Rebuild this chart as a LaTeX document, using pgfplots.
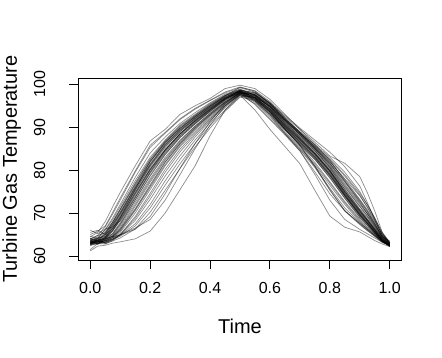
\documentclass[border=0pt]{standalone}
\usepackage{fontspec}
\setmainfont{Liberation Sans}
\usepackage{pgfplots}
\pgfplotsset{compat=1.18}
\begin{document}
\begin{tikzpicture}[crv/.style={black, opacity=0.45, line width=0.7pt, line join=round, mark=none}]
\begin{axis}[
  scale only axis, width=323.4pt, height=181.7pt,
  xmin=-0.04, xmax=1.04, ymin=59.07, ymax=101.4,
  xtick={0,0.2,0.4,0.6,0.8,1}, xticklabels={0.0,0.2,0.4,0.6,0.8,1.0},
  ytick={60,70,80,90,100},
  tick pos=left, tick align=outside, major tick length=9.5pt,
  tick style={black, line width=0.9pt},
  axis line style={line width=0.9pt},
  /pgf/number format/assume math mode=true,
  ticklabel style={font=\fontsize{16}{19}\selectfont},
  yticklabel style={rotate=90, anchor=south, inner ysep=23.3pt, inner xsep=0pt},
  xticklabel style={anchor=north},
  xticklabel shift=9pt, yticklabel shift=0pt,
  xlabel={Time}, ylabel={Turbine Gas Temperature},
  label style={font=\fontsize{20}{24}\selectfont},
  xlabel style={at={(axis description cs:0.5,0)}, anchor=base, yshift=-73.3pt},
  ylabel style={at={(axis description cs:-0.1896,0.5)}, anchor=base},
]
% curves: values at t = 0,.025,.05,.075,.1,.15,...,.9,.925,.95,.975,1
\addplot[crv] coordinates {(0,63)(.025,63.3)(.05,64)(.075,65.8)(.1,68.5)(.15,74.3)(.2,80)(.25,84.5)(.3,88.3)(.35,91.3)(.4,94)(.45,96.5)(.5,98.2)(.55,97)(.6,94.3)(.65,90.5)(.7,87.2)(.75,83.8)(.8,79.8)(.85,74.7)(.9,70.2)(.925,68.2)(.95,66)(.975,63.8)(1,62.5)};
\addplot[crv] coordinates {(0,64.5)(.025,65.5)(.05,68)(.075,71.5)(.1,74.8)(.15,81)(.2,86.8)(.25,89.5)(.3,93)(.35,95)(.4,96.7)(.45,99)(.5,99.8)(.55,99)(.6,96.5)(.65,93)(.7,89.5)(.75,86)(.8,82.3)(.85,77.5)(.9,73)(.925,70.5)(.95,67.5)(.975,64.5)(1,63.5)};
\addplot[crv] coordinates {(0,63.5)(.025,64.5)(.05,66)(.075,68.5)(.1,71.5)(.15,77.5)(.2,83)(.25,87)(.3,90.5)(.35,93)(.4,95.5)(.45,97.5)(.5,98.8)(.55,97.5)(.6,95)(.65,91.5)(.7,88.3)(.75,85)(.8,81.2)(.85,76.5)(.9,72)(.925,69.8)(.95,67.3)(.975,64.5)(1,62.8)};
\addplot[crv] coordinates {(0,62.8)(.025,63.5)(.05,65)(.075,67.5)(.1,70.3)(.15,76)(.2,81.5)(.25,86)(.3,89.5)(.35,92.3)(.4,94.8)(.45,97)(.5,98.5)(.55,96.5)(.6,93.5)(.65,89.5)(.7,86)(.75,82.5)(.8,78.3)(.85,73.5)(.9,69)(.925,67.2)(.95,65.2)(.975,63.5)(1,62.3)};
\addplot[crv] coordinates {(0,63.2)(.025,63)(.05,63.6)(.075,64.8)(.1,67)(.15,72.5)(.2,78)(.25,83)(.3,87)(.35,90.3)(.4,93.3)(.45,96)(.5,98)(.55,97.2)(.6,94.8)(.65,91.2)(.7,87.8)(.75,84.5)(.8,80.5)(.85,75.5)(.9,70.8)(.925,68.6)(.95,66.3)(.975,64)(1,62.6)};
\addplot[crv] coordinates {(0,62.5)(.025,63)(.05,63.3)(.075,64)(.1,65.5)(.15,70)(.2,75.5)(.25,81)(.3,85.5)(.35,89)(.4,92.3)(.45,95.3)(.5,97.8)(.55,96)(.6,92.8)(.65,88.7)(.7,85)(.75,81)(.8,76.5)(.85,72)(.9,68)(.925,66.3)(.95,64.8)(.975,63.3)(1,62.5)};
\addplot[crv] coordinates {(0,63.5)(.025,62.8)(.05,63.5)(.075,64)(.1,64.8)(.15,67.5)(.2,72)(.25,77.5)(.3,82.5)(.35,87)(.4,91)(.45,94.5)(.5,97.5)(.55,95.5)(.6,92)(.65,88.5)(.7,84.5)(.75,79)(.8,73)(.85,68.5)(.9,66.2)(.925,65.2)(.95,64.2)(.975,63.2)(1,62.5)};
\addplot[crv] coordinates {(0,61.2)(.025,62.3)(.05,62.5)(.075,63)(.1,63.3)(.15,64)(.2,65.8)(.25,70)(.3,75.5)(.35,81)(.4,88)(.45,94)(.5,97.5)(.55,94)(.6,89.5)(.65,85.5)(.7,81.5)(.75,75.3)(.8,69.3)(.85,66.7)(.9,65.6)(.925,64.6)(.95,63.6)(.975,62.8)(1,62.2)};
\addplot[crv] coordinates {(0,64)(.025,63.5)(.05,64)(.075,64.5)(.1,65)(.15,66.5)(.2,68.5)(.25,73)(.3,79)(.35,85)(.4,90.5)(.45,95)(.5,97.8)(.55,98)(.6,95.5)(.65,92.5)(.7,89.5)(.75,86.5)(.8,83.3)(.85,81.6)(.9,78.5)(.925,74.8)(.95,70.5)(.975,65.5)(1,63)};
\addplot[crv] coordinates {(0,65.5)(.025,66)(.05,65)(.075,66.5)(.1,69)(.15,75.5)(.2,82)(.25,86.5)(.3,89.8)(.35,92.5)(.4,95)(.45,97.3)(.5,98.6)(.55,97.8)(.6,95.5)(.65,92)(.7,89)(.75,86)(.8,83)(.85,79.5)(.9,75)(.925,72)(.95,68.8)(.975,65.5)(1,63.2)};
\addplot[crv] coordinates {(0,63.8)(.025,64.2)(.05,64.5)(.075,66.5)(.1,69.3)(.15,75.2)(.2,80.8)(.25,85.3)(.3,89)(.35,92)(.4,94.7)(.45,97.3)(.5,99.3)(.55,98.5)(.6,96)(.65,92.3)(.7,88.8)(.75,85.5)(.8,82)(.85,78)(.9,74)(.925,71.5)(.95,68.5)(.975,64.8)(1,62.8)};
\addplot[crv] coordinates {(0,63)(.025,62.7)(.05,64.2)(.075,66.8)(.1,69.6)(.15,75.3)(.2,81)(.25,85.5)(.3,89)(.35,91.8)(.4,94.4)(.45,96.8)(.5,98.3)(.55,97.3)(.6,94.6)(.65,90.8)(.7,87.5)(.75,84)(.8,80)(.85,75)(.9,70.5)(.925,68.4)(.95,66.2)(.975,64)(1,62.7)};
\addplot[crv] coordinates {(0,62.6)(.025,63.4)(.05,63.2)(.075,64.3)(.1,66.2)(.15,71.6)(.2,77.2)(.25,82.3)(.3,86.5)(.35,90)(.4,93)(.45,95.8)(.5,97.9)(.55,96.8)(.6,93.9)(.65,90)(.7,86.5)(.75,83)(.8,78.8)(.85,74)(.9,69.5)(.925,67.6)(.95,65.6)(.975,63.6)(1,62.4)};
\addplot[crv] coordinates {(0,64)(.025,64.8)(.05,65.4)(.075,67.8)(.1,70.8)(.15,76.8)(.2,82.4)(.25,86.6)(.3,90.1)(.35,92.7)(.4,95.2)(.45,97.3)(.5,98.6)(.55,96.8)(.6,93.5)(.65,89.5)(.7,85.8)(.75,81.8)(.8,77.3)(.85,72.7)(.9,68.6)(.925,66.8)(.95,65.2)(.975,63.6)(1,62.6)};
\addplot[crv] coordinates {(0,63.4)(.025,62.9)(.05,63.8)(.075,64.6)(.1,66)(.15,70.8)(.2,76.3)(.25,81.8)(.3,86.2)(.35,89.7)(.4,92.8)(.45,95.6)(.5,98)(.55,97.3)(.6,94.7)(.65,91.1)(.7,87.9)(.75,84.6)(.8,80.8)(.85,76)(.9,71.5)(.925,69.3)(.95,66.8)(.975,64.2)(1,62.6)};
\addplot[crv] coordinates {(0,62.4)(.025,63)(.05,63.7)(.075,65.3)(.1,67.8)(.15,73.6)(.2,79.3)(.25,84)(.3,87.9)(.35,91)(.4,93.8)(.45,96.3)(.5,98.1)(.55,96.2)(.6,93)(.65,89.4)(.7,85.8)(.75,81)(.8,75.5)(.85,70.5)(.9,67.3)(.925,65.9)(.95,64.6)(.975,63.3)(1,62.4)};
\addplot[crv] coordinates {(0,62.9)(.025,63.6)(.05,63)(.075,63.8)(.1,64.6)(.15,67)(.2,71.2)(.25,76.5)(.3,81.5)(.35,86.2)(.4,90.4)(.45,94)(.5,97.2)(.55,97)(.6,94.9)(.65,91.6)(.7,88.6)(.75,85.6)(.8,82.4)(.85,78.6)(.9,74.2)(.925,71.3)(.95,68.2)(.975,65)(1,63)};
\addplot[crv] coordinates {(0,64)(.025,64.8)(.05,66.8)(.075,69.8)(.1,73)(.15,79.5)(.2,85.3)(.25,88.6)(.3,91.8)(.35,94.2)(.4,96.2)(.45,98)(.5,99.2)(.55,98.2)(.6,95.5)(.65,91.6)(.7,88.2)(.75,84.7)(.8,80.6)(.85,75.6)(.9,71)(.925,69)(.95,66.6)(.975,64.2)(1,62.8)};
\addplot[crv] coordinates {(0,63.7)(.025,63.2)(.05,64)(.075,65)(.1,67.3)(.15,73)(.2,78.6)(.25,83.6)(.3,87.6)(.35,90.8)(.4,93.7)(.45,96.4)(.5,98.6)(.55,98.1)(.6,95.6)(.65,92)(.7,88.6)(.75,85.2)(.8,81.6)(.85,77.2)(.9,72.8)(.925,70.4)(.95,67.7)(.975,64.6)(1,62.9)};
\addplot[crv] coordinates {(0,63.1)(.025,64)(.05,64.6)(.075,67.2)(.1,70)(.15,75.8)(.2,81.2)(.25,85.8)(.3,89.3)(.35,92)(.4,94.5)(.45,96.7)(.5,97.9)(.55,95.3)(.6,91.8)(.65,88.2)(.7,84.5)(.75,79.6)(.8,74.5)(.85,70.5)(.9,67.6)(.925,66.2)(.95,64.8)(.975,63.4)(1,62.5)};
\addplot[crv] coordinates {(0,63.6)(.025,63.1)(.05,64.4)(.075,66.1)(.1,68.9)(.15,74.8)(.2,80.4)(.25,84.9)(.3,88.6)(.35,91.6)(.4,94.2)(.45,96.6)(.5,98.2)(.55,96.6)(.6,93.7)(.65,89.8)(.7,86.4)(.75,82.9)(.8,78.8)(.85,74)(.9,69.5)(.925,67.6)(.95,65.5)(.975,63.6)(1,62.2)};
\addplot[crv] coordinates {(0,61.5)(.025,62.9)(.05,62.8)(.075,63.6)(.1,65)(.15,69.2)(.2,74.6)(.25,80.2)(.3,84.9)(.35,88.6)(.4,92)(.45,95.1)(.5,97.6)(.55,96.8)(.6,94.1)(.65,90.3)(.7,87)(.75,83.6)(.8,79.5)(.85,74.4)(.9,69.9)(.925,67.9)(.95,65.8)(.975,63.7)(1,62.6)};
\addplot[crv] coordinates {(0,63.3)(.025,64.2)(.05,65.6)(.075,68)(.1,71)(.15,77)(.2,82.6)(.25,86.8)(.3,90.3)(.35,92.8)(.4,95.3)(.45,97.4)(.5,98.7)(.55,98)(.6,95.8)(.65,92.8)(.7,89.8)(.75,87)(.8,84.2)(.85,80.8)(.9,76.3)(.925,72.5)(.95,68.5)(.975,65)(1,63.2)};
\addplot[crv] coordinates {(0,63.2)(.025,64)(.05,63.6)(.075,64.3)(.1,64.9)(.15,66.2)(.2,69.2)(.25,74.5)(.3,80.5)(.35,86.2)(.4,91.3)(.45,95.5)(.5,98)(.55,96.9)(.6,94.2)(.65,90.4)(.7,87.1)(.75,83.7)(.8,79.7)(.85,74.6)(.9,70.1)(.925,68.1)(.95,65.9)(.975,63.7)(1,62.4)};
\addplot[crv] coordinates {(0,62.7)(.025,63.5)(.05,64.3)(.075,65.2)(.1,67.5)(.15,73.1)(.2,78.8)(.25,83.7)(.3,87.6)(.35,90.8)(.4,93.6)(.45,96.2)(.5,98.1)(.55,96.1)(.6,93)(.65,89)(.7,85.3)(.75,81.4)(.8,77)(.85,72.4)(.9,68.3)(.925,66.6)(.95,65)(.975,63.4)(1,62.3)};
\addplot[crv] coordinates {(0,65)(.025,65.8)(.05,67)(.075,70.2)(.1,73.5)(.15,79.8)(.2,85.8)(.25,88.8)(.3,92)(.35,94.4)(.4,96.3)(.45,98.2)(.5,99.4)(.55,98.4)(.6,95.6)(.65,92)(.7,88.7)(.75,85.3)(.8,81.5)(.85,76.8)(.9,72.3)(.925,70)(.95,67.5)(.975,64.6)(1,63)};
\addplot[crv] coordinates {(0,63)(.025,63.4)(.05,62.9)(.075,63.5)(.1,64.2)(.15,66.3)(.2,70.2)(.25,75.3)(.3,80.4)(.35,85.4)(.4,89.8)(.45,93.7)(.5,97)(.55,96.3)(.6,93.5)(.65,89.6)(.7,86)(.75,82.5)(.8,78.2)(.85,73.4)(.9,69)(.925,67.2)(.95,65.3)(.975,63.6)(1,62.5)};
\addplot[crv] coordinates {(0,63.3)(.025,63.7)(.05,64.2)(.075,65.9)(.1,68.3)(.15,73.9)(.2,79.6)(.25,84.2)(.3,88)(.35,91.1)(.4,93.9)(.45,96.5)(.5,98.4)(.55,97.6)(.6,95.1)(.65,91.7)(.7,88.6)(.75,85.4)(.8,82)(.85,77.8)(.9,73.2)(.925,70.8)(.95,68)(.975,65)(1,63.1)};
\addplot[crv] coordinates {(0,62.9)(.025,63.8)(.05,65.3)(.075,67.9)(.1,70.7)(.15,76.5)(.2,82)(.25,86.3)(.3,89.8)(.35,92.5)(.4,95)(.45,97.1)(.5,98.4)(.55,96.3)(.6,93.2)(.65,89.5)(.7,85.7)(.75,80.8)(.8,75.3)(.85,70.6)(.9,67.5)(.925,66)(.95,64.6)(.975,63.2)(1,62.3)};
\addplot[crv] coordinates {(0,66)(.025,65.2)(.05,66.3)(.075,66.8)(.1,68.2)(.15,73.6)(.2,79.5)(.25,84.6)(.3,88.5)(.35,91.6)(.4,94.3)(.45,96.8)(.5,98.4)(.55,97.5)(.6,94.8)(.65,91)(.7,87.6)(.75,84.2)(.8,80.2)(.85,75.2)(.9,70.7)(.925,68.6)(.95,66.4)(.975,64.1)(1,62.8)};
\addplot[crv] coordinates {(0,63.1)(.025,63.6)(.05,63.4)(.075,64.6)(.1,66.6)(.15,72)(.2,77.6)(.25,82.6)(.3,86.8)(.35,90.2)(.4,93.2)(.45,95.9)(.5,97.9)(.55,96.5)(.6,93.6)(.65,89.7)(.7,86.2)(.75,82.7)(.8,78.6)(.85,73.8)(.9,69.3)(.925,67.4)(.95,65.4)(.975,63.5)(1,62.2)};
\addplot[crv] coordinates {(0,64.2)(.025,63.6)(.05,65.2)(.075,67.4)(.1,70)(.15,76.2)(.2,82)(.25,86.3)(.3,89.7)(.35,92.4)(.4,94.9)(.45,97)(.5,98.5)(.55,97.6)(.6,95.2)(.65,91.7)(.7,88.4)(.75,85)(.8,81)(.85,76.2)(.9,71.6)(.925,69.4)(.95,67)(.975,64.4)(1,62.9)};
\addplot[crv] coordinates {(0,62.8)(.025,63.3)(.05,63.9)(.075,64.7)(.1,66.3)(.15,71)(.2,76.6)(.25,81.9)(.3,86.2)(.35,89.8)(.4,92.9)(.45,95.8)(.5,98.1)(.55,97.6)(.6,95.3)(.65,91.9)(.7,88.9)(.75,85.8)(.8,82.6)(.85,78.9)(.9,74.6)(.925,72)(.95,68.9)(.975,65.3)(1,63)};
\addplot[crv] coordinates {(0,63.9)(.025,63.4)(.05,64.5)(.075,66.3)(.1,69)(.15,74.7)(.2,80.2)(.25,84.7)(.3,88.4)(.35,91.4)(.4,94.1)(.45,96.7)(.5,98.3)(.55,97.1)(.6,94.2)(.65,90.3)(.7,86.9)(.75,83.4)(.8,79.3)(.85,74.3)(.9,69.8)(.925,67.8)(.95,65.8)(.975,63.7)(1,62.5)};
\addplot[crv] coordinates {(0,62.6)(.025,63.2)(.05,63.5)(.075,64.3)(.1,65.8)(.15,70.6)(.2,76)(.25,81.3)(.3,85.8)(.35,89.4)(.4,92.6)(.45,95.5)(.5,97.7)(.55,95.8)(.6,92.5)(.65,88.5)(.7,84.8)(.75,80.6)(.8,75.8)(.85,71.2)(.9,67.8)(.925,66.3)(.95,64.9)(.975,63.4)(1,62.4)};
\addplot[crv] coordinates {(0,64.6)(.025,64.1)(.05,66.2)(.075,68.9)(.1,72)(.15,78.3)(.2,84)(.25,87.7)(.3,90.9)(.35,93.4)(.4,95.7)(.45,97.7)(.5,98.9)(.55,97.4)(.6,94.6)(.65,90.8)(.7,87.4)(.75,83.9)(.8,79.8)(.85,74.9)(.9,70.4)(.925,68.3)(.95,66.1)(.975,63.9)(1,62.6)};
\addplot[crv] coordinates {(0,63.3)(.025,62.8)(.05,63.2)(.075,63.9)(.1,64.9)(.15,68.3)(.2,73.2)(.25,78.6)(.3,83.4)(.35,87.7)(.4,91.5)(.45,94.8)(.5,97.6)(.55,96.9)(.6,94.3)(.65,90.6)(.7,87.3)(.75,83.9)(.8,79.9)(.85,75)(.9,70.5)(.925,68.4)(.95,66.1)(.975,63.9)(1,62.6)};
\addplot[crv] coordinates {(0,63)(.025,63.8)(.05,64.1)(.075,66)(.1,68.7)(.15,74.5)(.2,80.1)(.25,84.7)(.3,88.5)(.35,91.5)(.4,94.1)(.45,96.6)(.5,98.3)(.55,97.4)(.6,94.9)(.65,91.4)(.7,88.2)(.75,85)(.8,81.6)(.85,77.4)(.9,72.5)(.925,69.9)(.95,67.1)(.975,64.4)(1,62.7)};
\addplot[crv] coordinates {(0,63.5)(.025,64.1)(.05,64.9)(.075,67)(.1,69.8)(.15,75.7)(.2,81.3)(.25,85.8)(.3,89.3)(.35,92.1)(.4,94.6)(.45,96.9)(.5,98.4)(.55,96.9)(.6,93.9)(.65,90.1)(.7,86.6)(.75,83.1)(.8,79)(.85,74.1)(.9,69.6)(.925,67.6)(.95,65.6)(.975,63.6)(1,62.4)};
\addplot[crv] coordinates {(0,62.9)(.025,63.5)(.05,63.1)(.075,63.8)(.1,65)(.15,68.8)(.2,74)(.25,79.5)(.3,84.3)(.35,88.2)(.4,91.8)(.45,95)(.5,97.6)(.55,96.5)(.6,93.8)(.65,90)(.7,86.7)(.75,83.2)(.8,79.1)(.85,74.2)(.9,69.7)(.925,67.7)(.95,65.6)(.975,63.6)(1,62.4)};
\end{axis}
\pgfresetboundingbox
\path[use as bounding box] (-78.3pt,-98pt) rectangle (363.7pt,260pt);
\end{tikzpicture}
\end{document}
